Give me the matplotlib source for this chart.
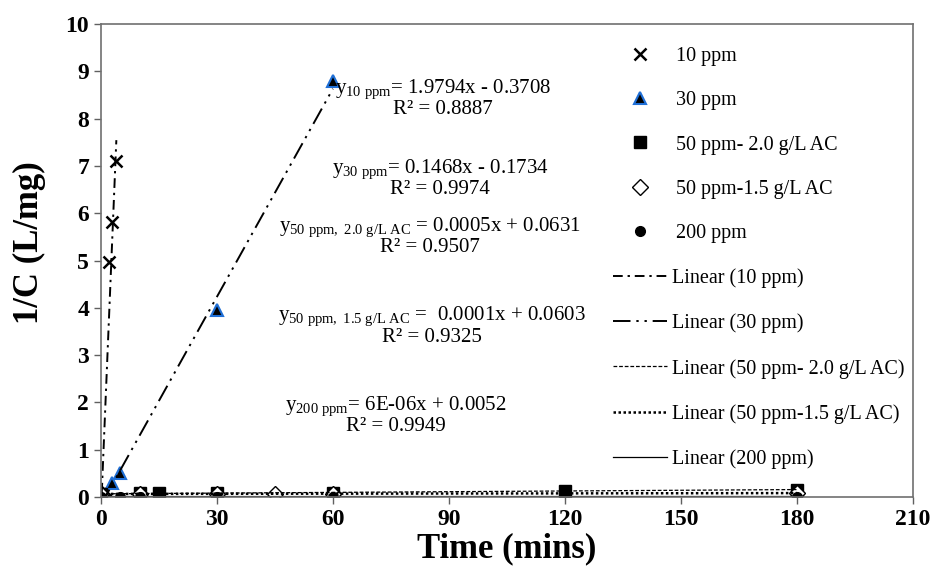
import numpy as np
import matplotlib
matplotlib.use("Agg")
import matplotlib.pyplot as plt

plt.rcParams['font.family'] = ['Liberation Serif', 'DejaVu Serif']
plt.rcParams['mathtext.fontset'] = 'custom'
plt.rcParams['mathtext.rm'] = 'Liberation Serif'
plt.rcParams['mathtext.it'] = 'Liberation Serif'
plt.rcParams['mathtext.default'] = 'regular'

# data
t_10 = [0, 1, 2, 3, 4]
c_10 = [0.08, 0.15, 4.96, 5.82, 7.10]

t_30 = [0, 3, 5, 30, 60]
c_30 = [0.07, 0.30, 0.50, 3.95, 8.80]

t_50a = [0, 10, 15, 30, 60, 120, 180]
c_50a = [0.06, 0.07, 0.08, 0.08, 0.09, 0.12, 0.15]

t_50b = [0, 10, 30, 45, 60, 180]
c_50b = [0.06, 0.06, 0.063, 0.065, 0.066, 0.078]

t_200 = [0, 5, 10, 15, 30, 60, 180]
c_200 = [0.005, 0.005, 0.005, 0.005, 0.005, 0.0056, 0.006]

# trendline coefficients (slope, intercept) from the chart
fit_10 = (1.9794, -0.3708)
fit_30 = (0.1468, -0.1734)
fit_50a = (0.0005, 0.0631)
fit_50b = (0.0001, 0.0603)
fit_200 = (6e-06, 0.0052)

fig = plt.figure(figsize=(9.34, 5.77), dpi=100)
ax = fig.add_axes([0.108, 0.139, 0.8695, 0.819])

# markers
m1, = ax.plot(t_10, c_10, 'x', color='black', ms=8, mew=1.8, ls='none', label='10 ppm')
m2, = ax.plot(t_30, c_30, '^', mfc='black', mec='#1f6fd6', mew=1.5, ms=9, ls='none', label='30 ppm')
m3, = ax.plot(t_50a, c_50a, 's', color='black', ms=8.5, ls='none', label='50 ppm- 2.0 g/L AC')
m4, = ax.plot(t_50b, c_50b, 'D', mfc='white', mec='black', mew=1.0, ms=8, ls='none', label='50 ppm-1.5 g/L AC')
m5, = ax.plot(t_200, c_200, 'o', color='black', ms=7, ls='none', label='200 ppm')

def trend(t, fit):
    x = np.array([min(t), max(t)])
    return x, fit[0] * x + fit[1]

x, y = trend(t_10, fit_10)
l1, = ax.plot(x, y, color='black', lw=1.4, dashes=(5, 2.5, 1.2, 2.5), label='Linear (10 ppm)')
x, y = trend(t_30, fit_30)
l2, = ax.plot(x, y, color='black', lw=1.4, dashes=(9, 3, 1.2, 3, 1.2, 3), label='Linear (30 ppm)')
x, y = trend(t_50a, fit_50a)
l3, = ax.plot(x, y, color='black', lw=0.9, dashes=(3, 1.5), label='Linear (50 ppm- 2.0 g/L AC)')
x, y = trend(t_50b, fit_50b)
l4, = ax.plot(x, y, color='black', lw=1.8, dashes=(1, 1), label='Linear (50 ppm-1.5 g/L AC)')
x, y = trend(t_200, fit_200)
l5, = ax.plot(x, y, color='black', lw=0.9, ls='-', label='Linear (200 ppm)')

ax.set_xlim(0, 210)
ax.set_ylim(0, 10)
ax.set_xticks(range(0, 211, 30))
ax.set_yticks(range(0, 11))
ax.tick_params(direction='out', length=5, width=1, colors='#606060', labelcolor='black',
               labelsize=17)
for lab in ax.get_xticklabels() + ax.get_yticklabels():
    lab.set_fontweight('bold')
for s in ax.spines.values():
    s.set_color('#707070')
    s.set_linewidth(1.2)

ax.set_xlabel('Time (mins)', fontsize=25, fontweight='bold', labelpad=2)
ax.set_ylabel('1/C (L/mg)', fontsize=25, fontweight='bold')
ax.yaxis.set_label_coords(-0.067, 0.537)

# equations
eqs = [
    (88.4, 8.44, '$y_{10\\ ppm}$= 1.9794x - 0.3708\nR² = 0.8887'),
    (87.7, 6.74, '$y_{30\\ ppm}$= 0.1468x - 0.1734\nR² = 0.9974'),
    (85.1, 5.52, '$y_{50\\ ppm,\\ 2.0\\ g/L\\ AC}$ = 0.0005x + 0.0631\nR² = 0.9507'),
    (85.6, 3.62, '$y_{50\\ ppm,\\ 1.5\\ g/L\\ AC}$ =  0.0001x + 0.0603\nR² = 0.9325'),
    (76.3, 1.73, '$y_{200\\ ppm}$= 6E-06x + 0.0052\nR² = 0.9949'),
]
for ex, ey, txt in eqs:
    ax.text(ex, ey, txt, ha='center', va='center', fontsize=15, linespacing=0.95,
            multialignment='center')

leg1 = ax.legend(handles=[m1, m2, m3, m4, m5], loc='upper left',
                 bbox_to_anchor=(0.642, 0.970), frameon=False, fontsize=14.5,
                 handlelength=1.0, handletextpad=1.25, labelspacing=1.26, borderaxespad=0)
ax.add_artist(leg1)
leg2 = ax.legend(handles=[l1, l2, l3, l4, l5], loc='upper left',
                 bbox_to_anchor=(0.6207, 0.500), frameon=False, fontsize=14.5,
                 handlelength=2.69, handletextpad=0.25, labelspacing=1.26, borderaxespad=0)

fig.savefig('out.png', dpi=100)
